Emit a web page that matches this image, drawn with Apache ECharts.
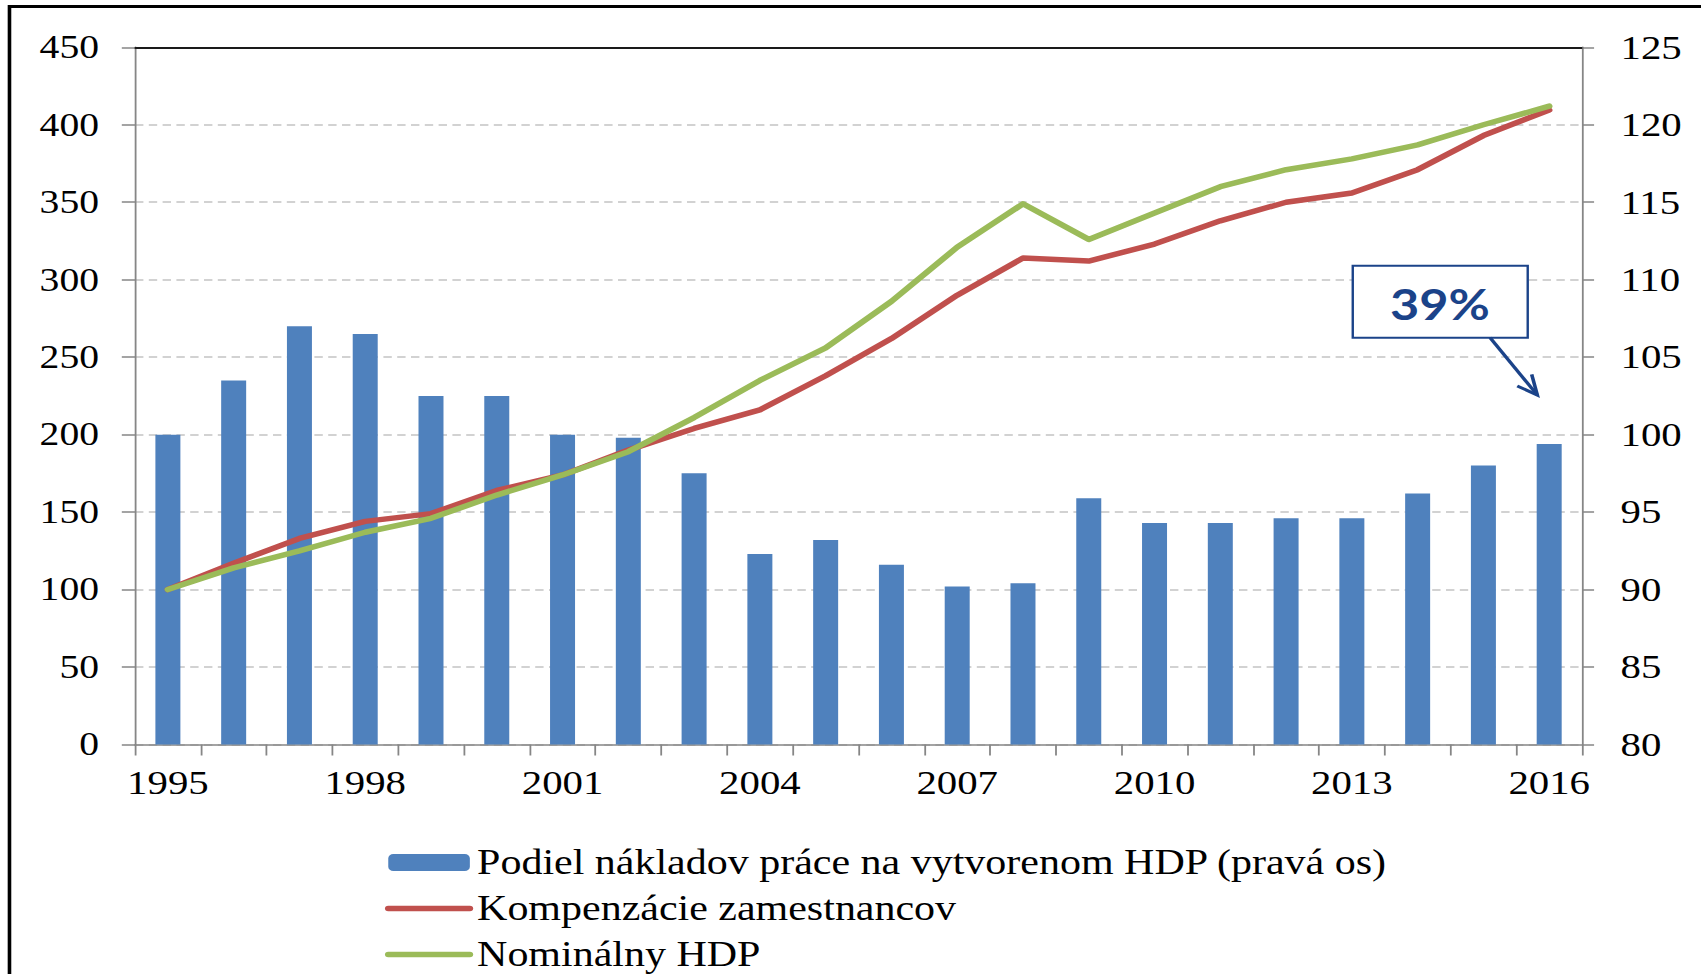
<!DOCTYPE html>
<html>
<head>
<meta charset="utf-8">
<script src="https://cdn.jsdelivr.net/npm/echarts@6/dist/echarts.min.js"></script>
<style>
html, body { margin: 0; padding: 0; background: #fff; overflow: hidden; }
#chart { width: 1417.5px; height: 974px; transform: scaleX(1.2); transform-origin: 0 0; }
</style>
</head>
<body>
<div id="chart"></div>
<script>
// ---- data ----
const years = ['1995','1996','1997','1998','1999','2000','2001','2002','2003','2004','2005',
               '2006','2007','2008','2009','2010','2011','2012','2013','2014','2015','2016'];
// Podiel nákladov práce na vytvorenom HDP (pravá os)
const podielNakladov = [100.0, 103.5, 107.0, 106.5, 102.5, 102.5, 100.0, 99.8, 97.5, 92.3, 93.2,
                        91.6, 90.2, 90.4, 95.9, 94.3, 94.3, 94.6, 94.6, 96.2, 98.0, 99.4];
// Kompenzácie zamestnancov
const kompenzacie = [100, 117, 133, 144, 149, 164, 174, 190, 204, 216, 238,
                     262, 290, 314, 312, 323, 338, 350, 356, 371, 393, 409.5];
// Nominálny HDP
const nominalnyHDP = [100, 114, 125, 137, 146, 161, 174, 189, 211, 235, 256,
                      286, 321, 349, 326, 343, 360, 371, 378, 387, 400, 412];
const seriesNames = ['Podiel nákladov práce na vytvorenom HDP (pravá os)',
                     'Kompenzácie zamestnancov', 'Nominálny HDP'];
const leftAxisRange = [0, 450, 50];
const rightAxisRange = [80, 125, 5];
const annotationText = '39%';

// ---- chart ----
const serif = 'Liberation Serif';
const axisGray = '#868686';
const chart = echarts.init(document.getElementById('chart'), null, { renderer: 'svg' });
chart.setOption({
  animation: false,
  backgroundColor: '#fff',
  grid: { left: 112.5, right: 99.6, top: 47.3, bottom: 229.5, containLabel: false, outerBoundsMode: 'none' },
  legend: {
    orient: 'vertical',
    left: 320.8,
    top: 845,
    height: 200,
    padding: 0,
    itemWidth: 68,
    itemHeight: 17,
    itemGap: 11,
    lineStyle: { width: 5.5, cap: 'round' },
    textStyle: { fontFamily: serif, fontSize: 35, color: '#000', lineHeight: 34, padding: [0, 0, 0, 1] },
    data: seriesNames
  },
  xAxis: [{
    type: 'category',
    data: years,
    boundaryGap: true,
    axisLine: { lineStyle: { color: axisGray, width: 1.5 } },
    axisTick: { show: true, interval: 0, length: 11, alignWithLabel: false, lineStyle: { color: axisGray, width: 1.5 } },
    axisLabel: { interval: 2, fontFamily: serif, fontSize: 34, color: '#000', margin: 21 },
    splitLine: { show: false }
  }, {
    type: 'category',
    data: years,
    position: 'top',
    axisLine: { show: true, lineStyle: { color: '#1a1a1a', width: 2 } },
    axisTick: { show: false },
    axisLabel: { show: false },
    splitLine: { show: false }
  }],
  yAxis: [{
    type: 'value',
    position: 'left',
    min: leftAxisRange[0], max: leftAxisRange[1], interval: leftAxisRange[2],
    axisLine: { show: true, lineStyle: { color: axisGray, width: 1.5 } },
    axisTick: { show: true, length: 11, lineStyle: { color: axisGray, width: 1.5 } },
    axisLabel: { fontFamily: serif, fontSize: 33, color: '#000', margin: 30 },
    splitLine: { show: true, lineStyle: { color: '#c4c4c4', width: 1.5, type: [7, 4.5] } }
  }, {
    type: 'value',
    position: 'right',
    min: rightAxisRange[0], max: rightAxisRange[1], interval: rightAxisRange[2],
    axisLine: { show: true, lineStyle: { color: axisGray, width: 1.5 } },
    axisTick: { show: true, length: 10, lineStyle: { color: axisGray, width: 1.5 } },
    axisLabel: { fontFamily: serif, fontSize: 34, color: '#000', margin: 32 },
    splitLine: { show: false }
  }],
  series: [{
    name: seriesNames[0],
    type: 'bar',
    yAxisIndex: 1,
    barWidth: '38%',
    itemStyle: { color: '#4f81bd' },
    data: podielNakladov
  }, {
    name: seriesNames[1],
    type: 'line',
    yAxisIndex: 0,
    symbol: 'circle',
    showSymbol: false,
    lineStyle: { color: '#c0504d', width: 5.5, cap: 'round', join: 'round' },
    itemStyle: { color: '#c0504d', opacity: 0 },
    data: kompenzacie
  }, {
    name: seriesNames[2],
    type: 'line',
    yAxisIndex: 0,
    symbol: 'circle',
    showSymbol: false,
    lineStyle: { color: '#9bbb59', width: 5.5, cap: 'round', join: 'round' },
    itemStyle: { color: '#9bbb59', opacity: 0 },
    data: nominalnyHDP
  }],
  graphic: [{
    type: 'rect',
    silent: true,
    shape: { x: 7.9, y: 6.5, width: 3000, height: 3000 },
    style: { fill: 'none', stroke: '#000', lineWidth: 3 },
    z: 100
  }, {
    type: 'rect',
    shape: { x: 1127.3, y: 265.7, width: 145.8, height: 72 },
    style: { fill: '#fff', stroke: '#1b4389', lineWidth: 2 },
    z: 100
  }, {
    type: 'text',
    style: { text: annotationText, x: 1200, y: 303.3, align: 'center', verticalAlign: 'middle',
             fontFamily: 'Lato', fontWeight: 'bold', fontSize: 42, fill: '#1b4389' },
    z: 101
  }, {
    type: 'polyline',
    shape: { points: [[1241.7, 337.7], [1281.1, 395]] },
    style: { stroke: '#1b4389', lineWidth: 3, fill: 'none' },
    z: 100
  }, {
    type: 'polyline',
    shape: { points: [[1264.4, 386], [1281.1, 395], [1276.4, 374.3]] },
    style: { stroke: '#1b4389', lineWidth: 3, fill: 'none' },
    z: 100
  }]
});
</script>
</body>
</html>
